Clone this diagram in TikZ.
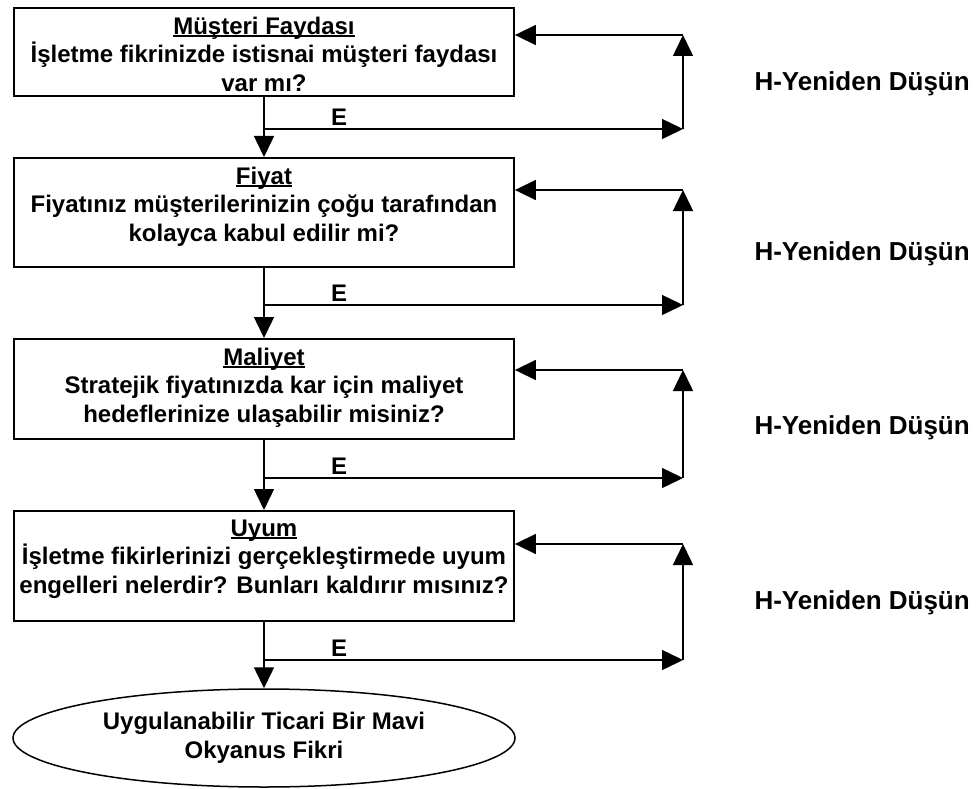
\documentclass[tikz,border=0pt]{standalone}
\usepackage{fontspec}
\setmainfont{Liberation Sans}
\usetikzlibrary{arrows.meta,shapes.geometric}
\newcommand{\baslik}[1]{\leavevmode\setbox0\hbox{#1}\rlap{\rule[-2.5pt]{\wd0}{1.5pt}}\box0}

\begin{document}
\begin{tikzpicture}[x=1pt,y=-1pt,
  every node/.style={font=\bfseries\fontsize{24}{28.5}\selectfont},
  box/.style={draw,line width=1.8pt,inner sep=0pt,anchor=north},
  flow/.style={line width=1.5pt,-{Triangle[length=21pt,width=20pt]}},
  back/.style={font=\bfseries\fontsize{26}{30}\selectfont,anchor=west}]
\useasboundingbox (0,0) rectangle (977,789);

\node[box] (musteri) at (264,7) {\parbox[c][88pt][t]{500pt}{\centering\vspace*{9pt}\baslik{Müşteri Faydası}\\İşletme fikrinizde istisnai müşteri faydası\\var mı?}};
\node[box] (fiyat) at (264,157) {\parbox[c][109pt][t]{500pt}{\centering\vspace*{9pt}\baslik{Fiyat}\\Fiyatınız müşterilerinizin çoğu tarafından\\kolayca kabul edilir mi?}};
\node[box] (maliyet) at (264,338) {\parbox[c][100pt][t]{500pt}{\centering\vspace*{9pt}\baslik{Maliyet}\\Stratejik fiyatınızda kar için maliyet\\hedeflerinize ulaşabilir misiniz?}};
\node[box] (uyum) at (264,510) {\parbox[c][110pt][t]{500pt}{\centering\vspace*{9pt}\baslik{Uyum}\\İşletme fikirlerinizi gerçekleştirmede uyum\\engelleri nelerdir? Bunları kaldırır mısınız?}};
\node[draw,ellipse,line width=1.5pt,inner sep=0pt,minimum width=502pt,minimum height=98pt,align=center] (fikir) at (264,738) {Uygulanabilir Ticari Bir Mavi\\Okyanus Fikri};

% evet yolu
\draw[flow] (musteri.south) -- (fiyat.north);
\draw[flow] (fiyat.south) -- (maliyet.north);
\draw[flow] (maliyet.south) -- (uyum.north);
\draw[flow] (uyum.south) -- (fikir.north);

\node (e1) at (339,117) {E};
\node (e2) at (339,293) {E};
\node (e3) at (339,466) {E};
\node (e4) at (339,648) {E};

% hayir yolu
\coordinate (a1) at (264,129);
\coordinate (b1) at (683,129);
\coordinate (c1) at (683,35);
\draw[flow] (a1) -- (b1);
\draw[flow] (b1) -- (c1);
\draw[flow] (c1) -- (musteri.east |- c1);

\coordinate (a2) at (264,305);
\coordinate (b2) at (683,305);
\coordinate (c2) at (683,190);
\draw[flow] (a2) -- (b2);
\draw[flow] (b2) -- (c2);
\draw[flow] (c2) -- (fiyat.east |- c2);

\coordinate (a3) at (264,478);
\coordinate (b3) at (683,478);
\coordinate (c3) at (683,370);
\draw[flow] (a3) -- (b3);
\draw[flow] (b3) -- (c3);
\draw[flow] (c3) -- (maliyet.east |- c3);

\coordinate (a4) at (264,660);
\coordinate (b4) at (683,660);
\coordinate (c4) at (683,544);
\draw[flow] (a4) -- (b4);
\draw[flow] (b4) -- (c4);
\draw[flow] (c4) -- (uyum.east |- c4);

\node[back] (h1) at (751,84) {H-Yeniden Düşün};
\node[back] (h2) at (751,254) {H-Yeniden Düşün};
\node[back] (h3) at (751,428) {H-Yeniden Düşün};
\node[back] (h4) at (751,603) {H-Yeniden Düşün};
\end{tikzpicture}
\end{document}
